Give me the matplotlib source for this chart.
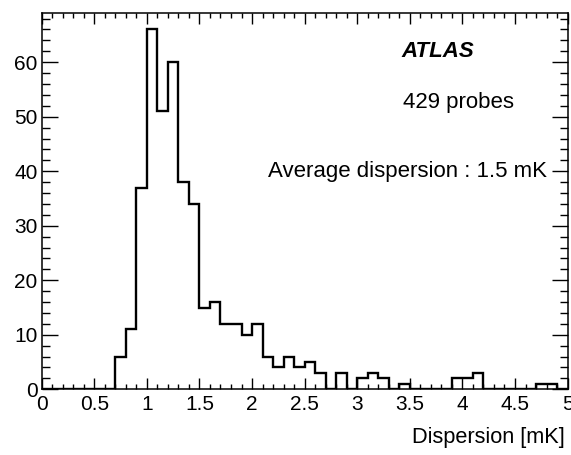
import numpy as np
import matplotlib
matplotlib.use('Agg')
import matplotlib.pyplot as plt
from matplotlib.ticker import MultipleLocator

# --- data: probe dispersion histogram, 0.1 mK bins from 0 to 5 mK ---
bin_edges = np.linspace(0, 5, 51)
counts = [0, 0, 0, 0, 0, 0, 0, 6, 11, 37,
          66, 51, 60, 38, 34, 15, 16, 12, 12, 10,
          12, 6, 4, 6, 4, 5, 3, 0, 3, 0,
          2, 3, 2, 0, 1, 0, 0, 0, 0, 2,
          2, 3, 0, 0, 0, 0, 0, 1, 1, 0]

atlas_label = 'ATLAS'
probes_label = '429 probes'
average_label = 'Average dispersion : 1.5 mK'
x_title = 'Dispersion [mK]'

plt.rcParams['font.family'] = ['Liberation Sans', 'DejaVu Sans']

fig = plt.figure(figsize=(5.71, 4.55), dpi=100)
ax = fig.add_axes([0.073, 0.1444, 0.921, 0.828])

ax.stairs(counts, bin_edges, color='black', linewidth=1.7)

ax.set_xlim(0, 5)
ax.set_ylim(0, 69.1)

ax.xaxis.set_minor_locator(MultipleLocator(0.1))
ax.yaxis.set_major_locator(MultipleLocator(10))
ax.yaxis.set_minor_locator(MultipleLocator(2))
ax.set_xticks(np.arange(0, 5.01, 0.5))
ax.set_xticklabels(['0', '0.5', '1', '1.5', '2', '2.5', '3', '3.5', '4', '4.5', '5'])

ax.tick_params(axis='both', which='both', direction='in', top=True, right=True,
               width=1.0, color='black', labelsize=15)
ax.tick_params(axis='x', which='major', length=7.8, pad=4)
ax.tick_params(axis='x', which='minor', length=3.9)
ax.tick_params(axis='y', which='major', length=11.4, pad=3)
ax.tick_params(axis='y', which='minor', length=5.7)

for sp in ax.spines.values():
    sp.set_linewidth(1.1)

# annotations
ax.text(0.684, 0.881, atlas_label, transform=ax.transAxes, fontsize=16,
        fontweight='bold', fontstyle='italic', va='baseline', ha='left')
ax.text(0.688, 0.746, probes_label, transform=ax.transAxes, fontsize=16,
        va='baseline', ha='left')
ax.text(0.431, 0.5626, average_label, transform=ax.transAxes, fontsize=16,
        va='baseline', ha='left')

fig.text(0.9895, 0.0264, x_title, fontsize=15.7, ha='right', va='baseline')

fig.savefig('out.png', dpi=100)
